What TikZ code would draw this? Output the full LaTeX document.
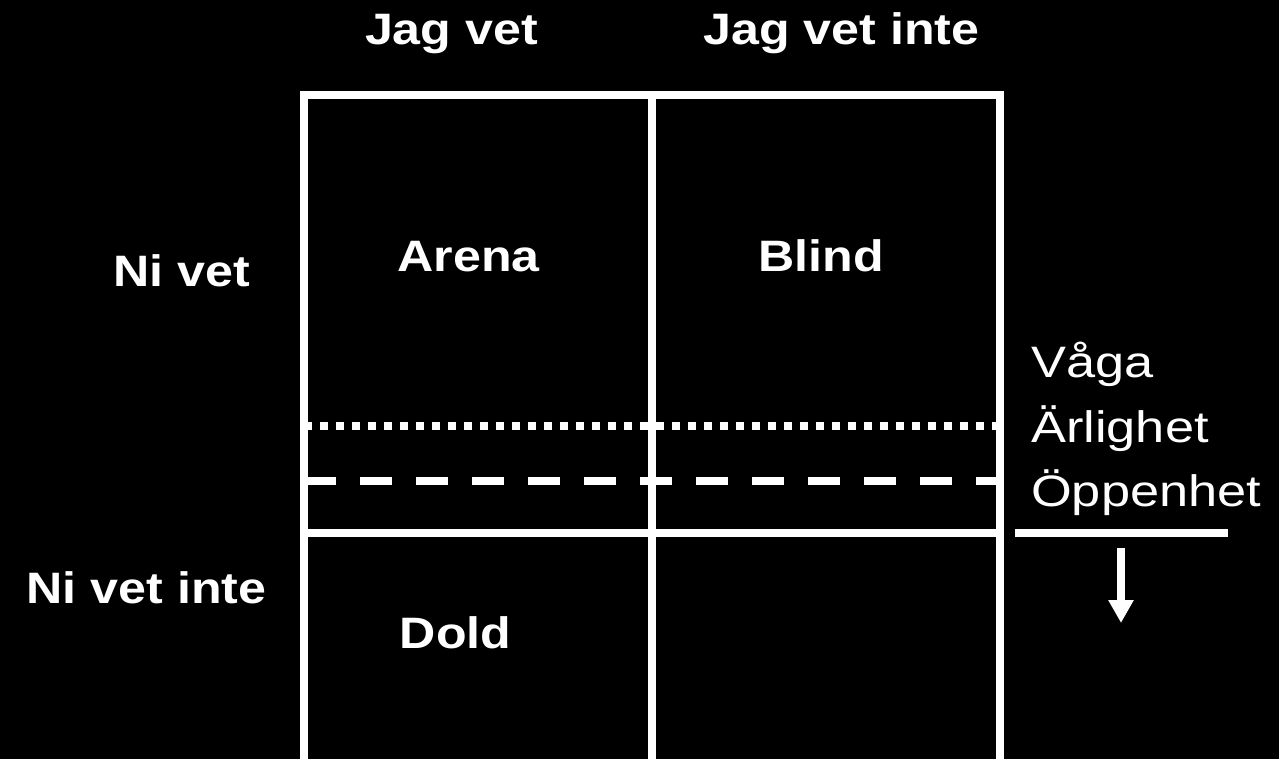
\documentclass[tikz,border=0pt]{standalone}
\usepackage{fontspec}
\setmainfont{Liberation Sans}[FakeStretch=1.19,BoldFeatures={FakeStretch=1.14}]
\usepackage{xcolor}
\usetikzlibrary{arrows.meta,positioning}
\definecolor{fondnoir}{HTML}{000000}
\definecolor{lignevit}{HTML}{FFFFFF}

\tikzset{
  rubrik/.style={inner sep=0pt,anchor=base,text=lignevit,
                 font=\fontsize{44}{50}\selectfont\bfseries},
  ord/.style={inner sep=0pt,anchor=base west,text=lignevit,
              font=\fontsize{44}{50}\selectfont},
  ruta/.style={draw=lignevit,line width=8pt},
}

\begin{document}
\begin{tikzpicture}[x=1pt,y=-1pt]
    \fill[fondnoir] (0,0) rectangle (1279,759);
    \useasboundingbox (0,0) rectangle (1279,759);
    % rutnatets horn
    \coordinate (nv) at (304,95);
    \coordinate (nm) at (652,95);
    \coordinate (nh) at (1000,95);
    \coordinate (sv) at (304,763);
    \coordinate (sm) at (652,763);
    \coordinate (sh) at (1000,763);
    \coordinate (mv) at (304,533);
    \coordinate (mh) at (1000,533);
    % ytterram och mittlinjer
    \draw[ruta,line cap=rect] (sv) -- (nv) -- (nh) -- (sh);
    \draw[ruta] (nm) -- (sm);
    \draw[ruta] (mv) -- (mh);
    % prickad och streckad grans
    \draw[ruta,dash pattern=on 8pt off 8pt] (304,426) -- (1000,426);
    \draw[ruta,dash pattern=on 32pt off 24pt] (304,481) -- (1000,481);
    % rubriker
    \node[rubrik] (jagvet) at (451.5,45) {Jag vet};
    \node[rubrik] (jagvetinte) at (841.5,45) {Jag vet inte};
    \node[rubrik] (nivet) at (181.5,287) {Ni vet};
    \node[rubrik] (nivetinte) at (146.5,603) {Ni vet inte};
    % rutornas namn
    \node[rubrik] (arena) at (468.5,272) {Arena};
    \node[rubrik] (blind) at (821,272) {Blind};
    \node[rubrik] (dold) at (455.5,648) {Dold};
    % till hoger
    \node[ord] (vaga) at (1031,377) {Våga};
    \node[ord] (arlighet) at (1031,442) {Ärlighet};
    \node[ord] (oppenhet) at (1031,506) {Öppenhet};
    \coordinate (strecka) at (1015,532.5);
    \coordinate (streckb) at (1228,532.5);
    \draw[ruta] (strecka) -- (streckb);
    \coordinate (pila) at (1121,548);
    \coordinate (pilb) at (1121,623);
    \draw[ruta,-{Triangle[width=24pt,length=23pt]}] (pila) -- (pilb);
\end{tikzpicture}
\end{document}
